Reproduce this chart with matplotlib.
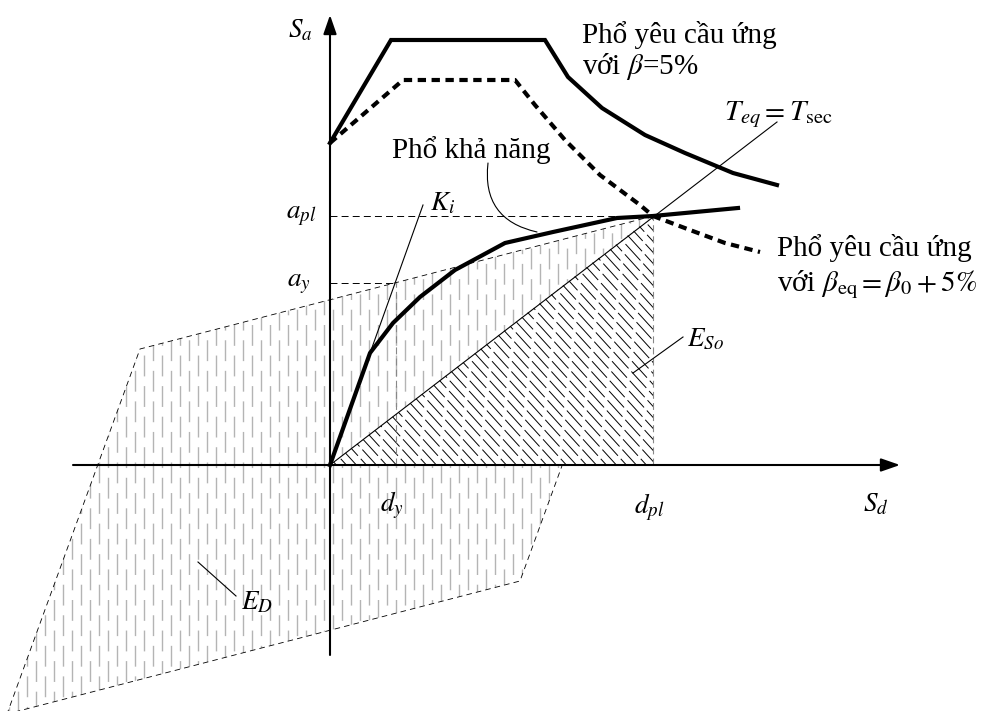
import numpy as np
import matplotlib.pyplot as plt
from matplotlib.patches import Polygon

plt.rcParams['font.family'] = ['Liberation Serif', 'DejaVu Serif']
plt.rcParams['mathtext.fontset'] = 'stix'
plt.rcParams['lines.scale_dashes'] = False

# capacity spectrum (Sd, Sa)
cap_sd = [0, 40, 63, 90, 125, 175, 223, 287, 323, 408]
cap_sa = [0, 112, 142, 168, 195, 222, 233, 247, 249, 257]

# demand spectrum, beta = 5%
dem5_sd = [0, 61, 215, 238, 272, 315, 355, 403, 447]
dem5_sa = [322, 425, 425, 388, 357, 330, 312, 292, 280]

# demand spectrum, beta_eq = beta_0 + 5%
demeq_sd = [0, 73, 185, 205, 235, 270, 310, 323, 360, 395, 430]
demeq_sa = [322, 385, 385, 360, 325, 290, 260, 249, 235, 222, 213]

# yield and performance points
d_y, a_y = 66, 182
d_pl, a_pl = 323, 249

# hysteresis loop vertices (E_D)
loop_sd = [d_pl, -190, -d_pl, 190]
loop_sa = [a_pl, 116, -a_pl, -116]

# initial stiffness and secant lines (end points)
ki_end = (93, 260)
sec_end = (447, 343)

fig = plt.figure(figsize=(9.81, 7.11), dpi=100)
ax = fig.add_axes([0, 0, 1, 1])
ax.set_xlim(-330, 651)
ax.set_ylim(-246, 465)
ax.axis('off')

# --- E_D: grey dashed vertical hatch inside the loop ---
loop = Polygon(np.column_stack([loop_sd, loop_sa]), closed=True,
               facecolor='none', edgecolor='none')
ax.add_patch(loop)
for i, x in enumerate(np.arange(-330, 330, 9)):
    ln, = ax.plot([x, x], [-300, 300], color='#b4b4b4', lw=1.0,
                  linestyle=(11 * (i % 2), (15, 7)), zorder=1)
    ln.set_clip_path(loop)
ax.add_patch(Polygon(np.column_stack([loop_sd, loop_sa]), closed=True,
                     facecolor='none', edgecolor='k', lw=0.6,
                     linestyle=(0, (4, 3)), zorder=1.5))

# --- E_So: triangle with black diagonal hatch ---
tri_pts = [(0, 0), (d_pl, a_pl), (d_pl, 0)]
tri = Polygon(tri_pts, closed=True, facecolor='white', edgecolor='none', zorder=2)
ax.add_patch(tri)
for i, x0 in enumerate(np.arange(-400, 400, 10)):
    xs = np.array([x0, x0 + 300])
    ln, = ax.plot(xs, -1.1 * (xs - x0) + 260, color='k', lw=0.7,
                  linestyle=(9 * (i % 2), (16, 3)), zorder=2.5)
    ln.set_clip_path(tri)

# reference dashed lines
ax.plot([0, d_pl], [a_pl, a_pl], color='k', lw=0.7, linestyle=(0, (5, 3)), zorder=3)
ax.plot([0, d_y], [a_y, a_y], color='k', lw=0.7, linestyle=(0, (5, 3)), zorder=3)
ax.plot([d_pl, d_pl], [0, a_pl], color='#888888', lw=0.8, linestyle=(0, (5, 3)), zorder=3)
ax.plot([d_y, d_y], [0, a_y], color='#888888', lw=0.8, linestyle=(0, (5, 3)), zorder=3)

# stiffness lines
ax.plot([0, ki_end[0]], [0, ki_end[1]], color='k', lw=0.8, zorder=4)
ax.plot([0, sec_end[0]], [0, sec_end[1]], color='k', lw=0.8, zorder=4)

# spectra
ax.plot(cap_sd, cap_sa, color='k', lw=3.0, solid_joinstyle='round', zorder=5)
ax.plot(dem5_sd, dem5_sa, color='k', lw=3.0, solid_joinstyle='miter', zorder=5)
ax.plot(demeq_sd, demeq_sa, color='k', lw=3.0, linestyle=(0, (6, 4)), zorder=5)

# axes with arrows
arrow = dict(arrowstyle='-|>,head_length=1.15,head_width=0.4', lw=1.5,
             color='k', shrinkA=0, shrinkB=0)
ax.annotate('', xy=(570, 0), xytext=(-257, 0), arrowprops=arrow, zorder=6)
ax.annotate('', xy=(0, 450), xytext=(0, -190), arrowprops=arrow, zorder=6)

fs = 19.5
fs_txt = 21
# axis labels
ax.text(-30, 434, '$S_a$', fontsize=fs, ha='center', va='center')
ax.text(546, -40, '$S_d$', fontsize=fs, ha='center', va='center')
ax.text(-14, 249, '$a_{pl}$', fontsize=fs, ha='right', va='center')
ax.text(-19, 182, '$a_y$', fontsize=fs, ha='right', va='center')
ax.text(d_y - 4, -40, '$d_y$', fontsize=fs, ha='center', va='center')
ax.text(d_pl - 4, -42, '$d_{pl}$', fontsize=fs, ha='center', va='center')
ax.text(113, 261, '$K_i$', fontsize=fs, ha='center', va='center')

# annotations
ax.text(394, 350, '$T_{eq} = T_{\\rm sec}$', fontsize=fs_txt, ha='left', va='center')
ax.text(252, 430, 'Phổ yêu cầu ứng', fontsize=fs_txt, ha='left', va='center')
ax.text(252, 398, 'với $\\beta$=5%', fontsize=fs_txt, ha='left', va='center')
ax.text(447, 217, 'Phổ yêu cầu ứng', fontsize=fs_txt, ha='left', va='center')
ax.text(447, 180, 'với $\\beta_{\\rm eq} = \\beta_0 + 5\\%$', fontsize=fs_txt,
        ha='left', va='center')
ax.text(62, 315, 'Phổ khả năng', fontsize=fs_txt, ha='left', va='center')
ax.annotate('', xy=(207, 233), xytext=(158, 302),
            arrowprops=dict(arrowstyle='-', lw=0.8, color='k',
                            connectionstyle='arc3,rad=0.45',
                            shrinkA=0, shrinkB=0))

ax.text(357, 125, '$E_{So}$', fontsize=fs, ha='left', va='center')
ax.plot([303, 353], [92, 128], color='k', lw=0.8, zorder=4)
ax.text(-89, -138, '$E_D$', fontsize=fs, ha='left', va='center')
ax.plot([-132, -94], [-97, -131], color='k', lw=0.8, zorder=4)

fig.savefig('out.png', dpi=100)
